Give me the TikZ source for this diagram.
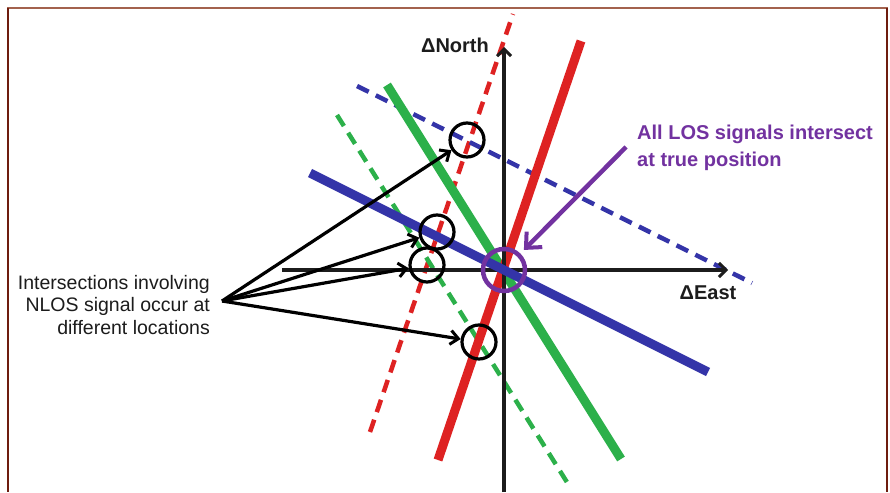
\documentclass[tikz,border=0pt]{standalone}
\usepackage{fontspec}
\setmainfont{Liberation Sans}
\usetikzlibrary{arrows.meta}
\definecolor{sigred}{HTML}{DE2222}
\definecolor{siggreen}{HTML}{2CB04A}
\definecolor{sigblue}{HTML}{3434A8}
\definecolor{losviolet}{HTML}{7232A0}
\definecolor{frametop}{HTML}{A3624E}
\definecolor{frameside}{HTML}{6E1C0E}
\definecolor{ink}{HTML}{1C1C1C}
\tikzset{
  solidsig/.style={line width=9pt},
  dashsig/.style={line width=4.5pt, dash pattern=on 13pt off 8pt},
  axisline/.style={line width=3.2pt, ink, -{Straight Barb[length=7pt,width=14pt,line width=3pt]}},
  nlosring/.style={circle, draw=black, line width=3.2pt, minimum size=34pt, inner sep=0pt},
  losring/.style={circle, draw=losviolet, line width=4.5pt, minimum size=42pt, inner sep=0pt},
  pointer/.style={line width=3.2pt, black, -{Straight Barb[length=8pt,width=14pt,line width=3pt]}},
  violetptr/.style={line width=4.5pt, losviolet, -{Straight Barb[length=12pt,width=22pt,line width=4pt]}},
  labeltext/.style={font=\fontsize{19.5pt}{22.5pt}\selectfont, text=ink, align=right, inner sep=0pt},
  violettext/.style={font=\bfseries\fontsize{20pt}{27pt}\selectfont, text=losviolet, align=left, inner sep=0pt},
  axistext/.style={font=\bfseries\fontsize{20pt}{24pt}\selectfont, text=ink, inner sep=0pt},
}
\begin{document}
\begin{tikzpicture}[x=1pt,y=-1pt]
\useasboundingbox (0,0) rectangle (890,492);
\fill[white] (0,0) rectangle (890,492);
% frame
\draw[frametop, line width=2.2pt] (7,8) -- (888,8);
\draw[frameside, line width=2pt] (8,8) -- (8,492);
\draw[frameside, line width=2pt] (887,8) -- (887,492);

% dashed (NLOS) signal lines
\draw[dashsig, sigred] (370,432) -- (513,14);
\draw[dashsig, siggreen] (337,115) -- (570,487);
\draw[dashsig, sigblue] (357,86) -- (752,283);
% solid (LOS) signal lines
\draw[solidsig, siggreen] (387,85) -- (621,459);
\draw[solidsig, sigred] (438,460) -- (581,41);

% axes
\coordinate (yb) at (504,492);
\coordinate (yt) at (504,47);
\coordinate (xl) at (282,270);
\coordinate (xr) at (728,270);
\draw[axisline] (yb) -- (yt);
\draw[axisline] (xl) -- (xr);
\node[axistext] (north) at (455,45) {ΔNorth};
\node[axistext] (east) at (708,293) {ΔEast};

\draw[solidsig, sigblue] (310,173) -- (708,372);

% intersection rings
\node[nlosring] (r1) at (467,140) {};
\node[nlosring] (r2) at (437,232) {};
\node[nlosring] (r3) at (427,265) {};
\node[nlosring] (r4) at (479,342) {};
\node[losring] (true) at (504,270) {};

% left label and pointers
\node[labeltext, anchor=east] (nlos) at (210,305) {Intersections involving\\NLOS signal occur at\\different locations};
\coordinate (src) at (222,301);
\draw[pointer] (src) -- (r1);
\draw[pointer] (src) -- (r2);
\draw[pointer] (src) -- (r3);
\draw[pointer] (src) -- (r4);

% LOS label and pointer
\node[violettext, anchor=north west] (los) at (637,125) {All LOS signals intersect\\at true position};
\coordinate (pstart) at (626,147);
\draw[violetptr, shorten >=5pt] (pstart) -- (true);
\end{tikzpicture}
\end{document}
